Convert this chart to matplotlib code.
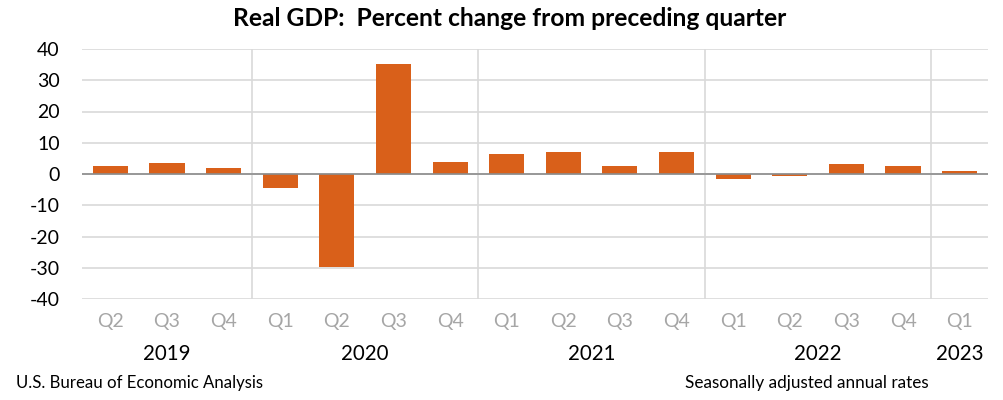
import numpy as np
import matplotlib.pyplot as plt

quarters = ["Q2", "Q3", "Q4", "Q1", "Q2", "Q3", "Q4", "Q1", "Q2", "Q3", "Q4",
            "Q1", "Q2", "Q3", "Q4", "Q1"]
gdp_change = [2.7, 3.6, 1.8, -4.6, -29.9, 35.3, 3.9, 6.3, 7.0, 2.7, 7.0,
              -1.6, -0.6, 3.2, 2.6, 1.1]
years = ["2019", "2020", "2021", "2022", "2023"]
year_counts = [3, 4, 4, 4, 1]

plt.rcParams['font.family'] = ['Lato', 'DejaVu Sans']
plt.rcParams['axes.unicode_minus'] = False

fig = plt.figure(figsize=(10.04, 4.0), dpi=100)
ax = fig.add_axes([0.0817, 0.2525, 0.9023, 0.625])

x = np.arange(len(gdp_change))
ax.bar(x, gdp_change, width=0.62, color="#D9601A", zorder=3)

ax.set_xlim(-0.5, len(x) - 0.5)
ax.set_ylim(-40, 40)
ax.set_yticks(np.arange(-40, 41, 10))
ax.yaxis.grid(True, color="#D9D9D9", linewidth=1.2, zorder=0)
ax.axhline(0, color="#8C8C8C", linewidth=1.2, zorder=4)

for s in ax.spines.values():
    s.set_visible(False)
ax.tick_params(axis="y", length=0, labelsize=14, pad=16, colors="black")
ax.set_xticks(x)
ax.set_xticklabels(quarters, fontsize=14, color="#A6A6A6")
ax.tick_params(axis="x", length=0, pad=10)

# year separators and labels
start = 0
for yr, n in zip(years, year_counts):
    if start > 0:
        ax.axvline(start - 0.5, color="#D9D9D9", linewidth=1.2, zorder=1)
    ax.text(start + (n - 1) / 2, -0.22, yr, transform=ax.get_xaxis_transform(),
            ha="center", va="center", fontsize=14.8, color="black")
    start += n

fig.text(0.508, 0.955, "Real GDP:  Percent change from preceding quarter",
         ha="center", va="center", fontsize=17.7, fontweight="bold")
fig.text(0.016, 0.042, "U.S. Bureau of Economic Analysis", ha="left",
         va="center", fontsize=12.1)
fig.text(0.925, 0.042, "Seasonally adjusted annual rates", ha="right",
         va="center", fontsize=12.3)

fig.savefig("out.png", dpi=100)
